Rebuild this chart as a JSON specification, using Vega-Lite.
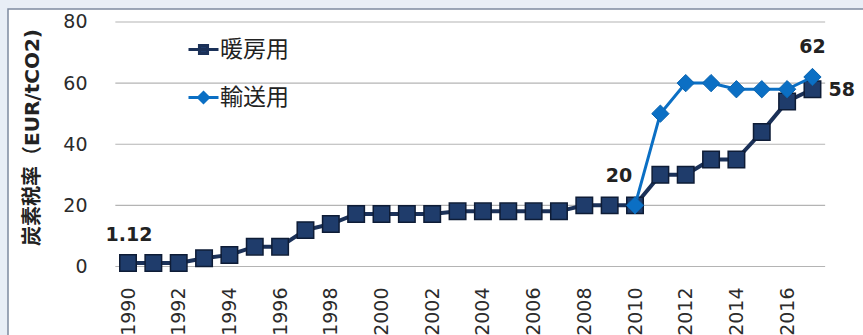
{
  "$schema": "https://vega.github.io/schema/vega-lite/v6.json",
  "autosize": "none",
  "padding": {"left": 8, "top": 9, "right": 0, "bottom": 0},
  "width": 856,
  "height": 327,
  "background": "#e8eef6",
  "config": {
    "font": "DejaVu Sans, Noto Sans CJK JP",
    "view": {"fill": "white", "stroke": "#7d8aa0", "strokeWidth": 1.5}
  },
  "datasets": {
    "rates": [
      {"year": 1990, "series": "暖房用", "value": 1.12, "label": "1.12"},
      {"year": 1991, "series": "暖房用", "value": 1.12},
      {"year": 1992, "series": "暖房用", "value": 1.12},
      {"year": 1993, "series": "暖房用", "value": 2.69},
      {"year": 1994, "series": "暖房用", "value": 3.8},
      {"year": 1995, "series": "暖房用", "value": 6.5},
      {"year": 1996, "series": "暖房用", "value": 6.5},
      {"year": 1997, "series": "暖房用", "value": 11.9},
      {"year": 1998, "series": "暖房用", "value": 13.9},
      {"year": 1999, "series": "暖房用", "value": 17.2},
      {"year": 2000, "series": "暖房用", "value": 17.2},
      {"year": 2001, "series": "暖房用", "value": 17.2},
      {"year": 2002, "series": "暖房用", "value": 17.2},
      {"year": 2003, "series": "暖房用", "value": 18.05},
      {"year": 2004, "series": "暖房用", "value": 18.05},
      {"year": 2005, "series": "暖房用", "value": 18.05},
      {"year": 2006, "series": "暖房用", "value": 18.05},
      {"year": 2007, "series": "暖房用", "value": 18.05},
      {"year": 2008, "series": "暖房用", "value": 20},
      {"year": 2009, "series": "暖房用", "value": 20},
      {"year": 2010, "series": "暖房用", "value": 20},
      {"year": 2011, "series": "暖房用", "value": 30},
      {"year": 2012, "series": "暖房用", "value": 30},
      {"year": 2013, "series": "暖房用", "value": 35},
      {"year": 2014, "series": "暖房用", "value": 35},
      {"year": 2015, "series": "暖房用", "value": 44},
      {"year": 2016, "series": "暖房用", "value": 54},
      {"year": 2017, "series": "暖房用", "value": 58, "label": "58"},
      {"year": 2010, "series": "輸送用", "value": 20, "label": "20"},
      {"year": 2011, "series": "輸送用", "value": 50},
      {"year": 2012, "series": "輸送用", "value": 60},
      {"year": 2013, "series": "輸送用", "value": 60},
      {"year": 2014, "series": "輸送用", "value": 58},
      {"year": 2015, "series": "輸送用", "value": 58},
      {"year": 2016, "series": "輸送用", "value": 58},
      {"year": 2017, "series": "輸送用", "value": 62, "label": "62"}
    ],
    "grid": [
      {"level": 0}, {"level": 20}, {"level": 40}, {"level": 60}, {"level": 80}
    ]
  },
  "layer": [
    {
      "data": {"name": "grid"},
      "mark": {"type": "rule", "color": "#b4b4b4", "strokeWidth": 1.2},
      "encoding": {
        "x": {"datum": 1989.5, "type": "quantitative"},
        "x2": {"datum": 2017.5},
        "y": {"field": "level", "type": "quantitative"}
      }
    },
    {
      "data": {"name": "rates"},
      "encoding": {
        "x": {
          "field": "year",
          "type": "quantitative",
          "scale": {"domain": [1985.266, 2019.033], "nice": false, "zero": false},
          "axis": {
            "values": [1990, 1992, 1994, 1996, 1998, 2000, 2002, 2004, 2006, 2008, 2010, 2012, 2014, 2016],
            "format": "d",
            "title": null,
            "grid": false,
            "domain": false,
            "ticks": false,
            "offset": -51,
            "labelPadding": 2,
            "labelAngle": 270,
            "labelAlign": "right",
            "labelBaseline": "middle",
            "labelFontSize": 19,
            "labelColor": "#2b2b2b",
            "labelFlush": false,
            "labelOverlap": false
          }
        },
        "y": {
          "field": "value",
          "type": "quantitative",
          "scale": {"domain": [-22.74, 84.25], "nice": false, "zero": false},
          "axis": {
            "values": [0, 20, 40, 60, 80],
            "title": "炭素税率（EUR/tCO2)",
            "titleFontSize": 20,
            "titleFontWeight": "bold",
            "titleColor": "#222222",
            "titleX": -84,
            "titleY": 128,
            "titleAngle": -90,
            "titleAlign": "center",
            "titleBaseline": "middle",
            "grid": false,
            "domain": false,
            "ticks": false,
            "offset": -108,
            "labelPadding": 29,
            "labelFontSize": 19,
            "labelColor": "#2b2b2b",
            "labelFlush": false,
            "labelOverlap": false
          }
        }
      },
      "layer": [
        {
          "transform": [{"filter": "datum.series === '暖房用'"}],
          "mark": {"type": "line", "strokeWidth": 4, "color": "#1b3158"},
          "encoding": {
            "color": {
              "field": "series",
              "type": "nominal",
              "scale": {"domain": ["暖房用", "輸送用"], "range": ["#1b3158", "#0b6fc4"]},
              "legend": {
                "orient": "none",
                "legendX": 179,
                "legendY": 24,
                "title": null,
                "padding": 0,
                "symbolSize": 900,
                "symbolStrokeWidth": 3,
                "labelFontSize": 23,
                "labelColor": "#222222",
                "labelOffset": 0,
                "rowPadding": 19,
                "labelLimit": 200,
                "encode": {
                  "symbols": {
                    "update": {
                      "shape": {"signal": "datum.value === '暖房用' ? 'M-1,0H1M-0.27,-0.27H0.27V0.27H-0.27Z' : 'M-1,0H1M0,-0.33L0.33,0L0,0.33L-0.33,0Z'"},
                      "fill": {"signal": "datum.value === '暖房用' ? '#1f3c6b' : '#0b6fc4'"},
                      "stroke": {"signal": "datum.value === '暖房用' ? '#14284a' : '#0b6fc4'"},
                      "strokeDash": {"value": []},
                      "opacity": {"value": 1}
                    }
                  }
                }
              }
            }
          }
        },
        {
          "transform": [{"filter": "datum.series === '暖房用'"}],
          "mark": {"type": "point", "shape": "square", "size": 272, "filled": true, "fill": "#1f3c6b", "stroke": "#0e1c36", "strokeWidth": 1.5, "opacity": 1}
        },
        {
          "transform": [{"filter": "datum.series === '輸送用'"}],
          "mark": {"type": "line", "strokeWidth": 3, "color": "#0b6fc4"},
          "encoding": {
            "color": {"field": "series", "type": "nominal"}
          }
        },
        {
          "transform": [{"filter": "datum.series === '輸送用'"}],
          "mark": {"type": "point", "shape": "diamond", "size": 300, "filled": true, "fill": "#0b6fc4", "stroke": "#0a64b0", "strokeWidth": 1, "opacity": 1}
        },
        {
          "transform": [{"filter": "datum.label === '1.12'"}],
          "mark": {"type": "text", "fontSize": 19, "fontWeight": "bold", "color": "#222222", "align": "center", "baseline": "middle", "dx": 1, "dy": -28},
          "encoding": {"text": {"field": "label"}}
        },
        {
          "transform": [{"filter": "datum.label === '20'"}],
          "mark": {"type": "text", "fontSize": 19, "fontWeight": "bold", "color": "#222222", "align": "center", "baseline": "middle", "dx": -16, "dy": -29},
          "encoding": {"text": {"field": "label"}}
        },
        {
          "transform": [{"filter": "datum.label === '62'"}],
          "mark": {"type": "text", "fontSize": 19, "fontWeight": "bold", "color": "#222222", "align": "center", "baseline": "middle", "dx": 0, "dy": -30},
          "encoding": {"text": {"field": "label"}}
        },
        {
          "transform": [{"filter": "datum.label === '58'"}],
          "mark": {"type": "text", "fontSize": 19, "fontWeight": "bold", "color": "#222222", "align": "left", "baseline": "middle", "dx": 16, "dy": 1},
          "encoding": {"text": {"field": "label"}}
        }
      ]
    }
  ]
}
